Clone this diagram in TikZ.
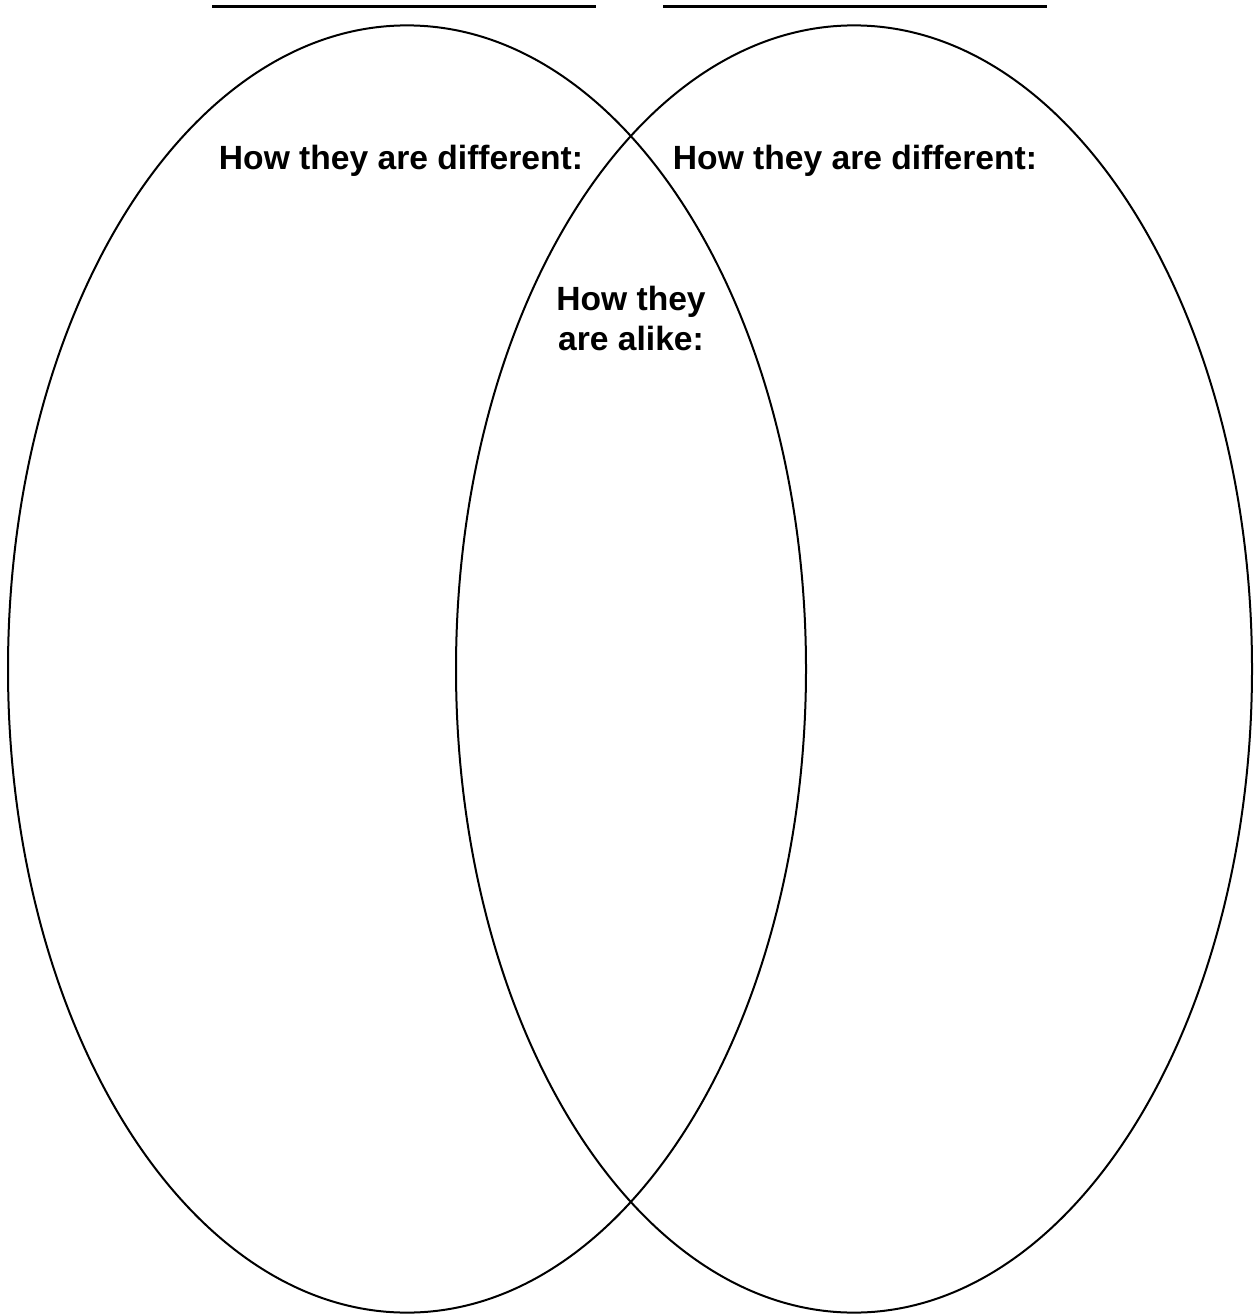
\documentclass[tikz,border=0pt]{standalone}
\usepackage{fontspec}
\setmainfont{Liberation Sans}
\usepackage{tikz}
\usetikzlibrary{positioning}
\usepackage{xcolor}
\definecolor{vnblack}{HTML}{000000}

\begin{document}
\begin{tikzpicture}[x=0.5pt, y=-0.5pt, font=\fontsize{16.8}{20}\selectfont\bfseries]
    \useasboundingbox (0,0) rectangle (1254,1316);
    \draw[line width=1.5pt, color=vnblack] (212,7) -- (596,7);
    \draw[line width=1.5pt, color=vnblack] (663,7) -- (1047,7);
    \draw[line width=1pt, color=vnblack] (407,669) ellipse [x radius=199.5pt, y radius=321.8pt];
    \draw[line width=1pt, color=vnblack] (854,669) ellipse [x radius=199pt, y radius=321.8pt];
    \node[anchor=base, inner sep=0pt, text=vnblack] (dl) at (401,170) {How they are different:};
    \node[anchor=base, inner sep=0pt, text=vnblack] (dr) at (855,170) {How they are different:};
    \node[anchor=center, inner sep=0pt, align=center, text=vnblack] (al) at (631,318) {How they\\are alike:};
  \end{tikzpicture}
\end{document}
